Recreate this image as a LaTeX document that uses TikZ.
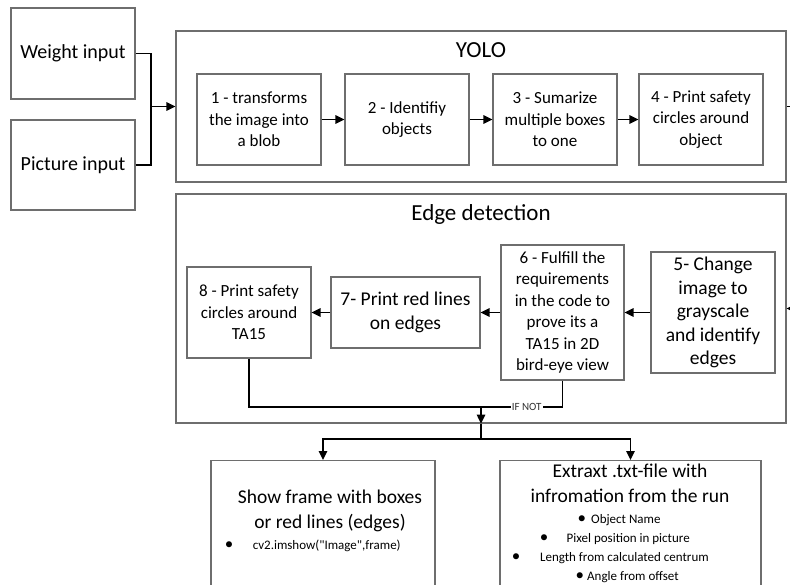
\documentclass[tikz,border=0pt]{standalone}
\usepackage{fontspec}
\setmainfont{Carlito}
\newfontfamily\codefont{Carlito}[Ligatures=TeXOff]
\usetikzlibrary{arrows.meta}
\definecolor{boxgray}{HTML}{6E6E6E}
\newcommand{\listdot}{\makebox[0pt]{\fontsize{17}{17}\selectfont\textbullet}}
\begin{document}
\begin{tikzpicture}[x=1pt,y=-1pt,
  box/.style={draw=boxgray, line width=1.2pt, fill=white, align=center,
    inner sep=2pt, font=\fontsize{17}{21.5}\selectfont},
  bigtext/.style={font=\fontsize{19.5}{23.5}\selectfont},
  framebox/.style={draw=boxgray, line width=1.2pt, inner sep=0pt},
  title/.style={font=\fontsize{23}{27}\selectfont},
  link/.style={draw=black, line width=1.4pt},
  arr/.style={link, -{Triangle[length=9pt,width=8.5pt]}},
  bullettext/.style={anchor=base west, inner sep=0pt, font=\fontsize{13}{16}\selectfont},
  headtext/.style={anchor=base, inner sep=0pt, font=\fontsize{19.5}{23.5}\selectfont},
]
\useasboundingbox (0,0) rectangle (790,584);
\clip (0,0) rectangle (790,584);
\fill[white] (0,0) rectangle (790,584);

% inputs
\node[box, font=\fontsize{20}{24}\selectfont, minimum width=124pt, minimum height=91pt] (weight) at (73,53.5) {Weight input};
\node[box, font=\fontsize{20}{24}\selectfont, minimum width=124pt, minimum height=90pt] (picture) at (73,165) {Picture input};

% YOLO stage
\node[framebox, minimum width=610pt, minimum height=151pt] (yolo) at (481,106.5) {};
\node[title] (yolotitle) at (481,50) {YOLO};
\node[box, minimum width=124pt, minimum height=91pt] (b1) at (259,119.5) {1 - transforms\\the image into\\a blob};
\node[box, minimum width=124pt, minimum height=91pt] (b2) at (407,119.5) {2 - Identifiy\\objects};
\node[box, minimum width=124pt, minimum height=91pt] (b3) at (555,119.5) {3 - Sumarize\\multiple boxes\\to one};
\node[box, minimum width=124pt, minimum height=91pt] (b4) at (701,119.5) {4 - Print safety\\circles around\\object};

% edge detection stage
\node[framebox, minimum width=610pt, minimum height=229pt] (edge) at (481,308.5) {};
\node[title] (edgetitle) at (481,214) {Edge detection};
\node[box, bigtext, minimum width=124pt, minimum height=121pt] (b5) at (713,312.5) {5- Change\\image to\\grayscale\\and identify\\edges};
\node[box, minimum width=123pt, minimum height=135pt] (b6) at (562.5,312.5) {6 - Fulfill the\\requirements\\in the code to\\prove its a\\TA15 in 2D\\bird-eye view};
\node[box, bigtext, minimum width=149pt, minimum height=71pt] (b7) at (405.5,312.5) {7- Print red lines\\on edges};
\node[box, minimum width=124pt, minimum height=91pt] (b8) at (249,312.5) {8 - Print safety\\circles around\\TA15};

% output boxes
\node[box, anchor=north, minimum width=224pt, minimum height=150pt] (show) at (323,460) {};
\node[box, anchor=north, minimum width=261pt, minimum height=150pt] (extract) at (630.5,460) {};

\node[headtext] (showl1) at (330,503.5) {Show frame with boxes};
\node[headtext] (showl2) at (330,528.5) {or red lines (edges)};
\node[bullettext] (showb1) at (252.6,549) {\llap{\listdot\hspace{23.6pt}}{\codefont cv2.imshow("Image",frame)}};

\node[headtext] (extl1) at (630,477.5) {Extraxt .txt-file with};
\node[headtext] (extl2) at (630,502.5) {infromation from the run};
\node[bullettext] (extb1) at (591,523) {\llap{\listdot\hspace{9.4pt}}Object Name};
\node[bullettext] (extb2) at (566.5,542) {\llap{\listdot\hspace{22.5pt}}Pixel position in picture};
\node[bullettext] (extb3) at (540,561.5) {\llap{\listdot\hspace{24.2pt}}Length from calculated centrum};
\node[bullettext] (extb4) at (587,580) {\llap{\listdot\hspace{7.3pt}}Angle from offset};

% connectors
\coordinate (join) at (151,106.5);
\draw[link] (weight.east) -| (join);
\draw[link] (picture.east) -| (join);
\draw[arr] (join) -- (yolo.west);

\draw[arr] (b1) -- (b2);
\draw[arr] (b2) -- (b3);
\draw[arr] (b3) -- (b4);

\draw[arr] (yolo.east) -- ++(30,0) |- (edge.east);

\draw[arr] (b5) -- (b6);
\draw[arr] (b6) -- (b7);
\draw[arr] (b7) -- (b8);

\coordinate (merge) at (481,407);
\draw[link] (b8.south) |- (merge);
\draw[link] (b6.south) |- (merge)
  node[pos=0.72, fill=white, inner sep=1pt, text=black!80, font=\fontsize{11}{12}\selectfont] (ifnot) {IF NOT};
\draw[arr] (merge) -- (edge.south);

\coordinate (split) at (481,439);
\draw[link] (edge.south) -- (split);
\draw[arr] (split) -| (show.north);
\draw[arr] (split) -| (extract.north);
\end{tikzpicture}
\end{document}
